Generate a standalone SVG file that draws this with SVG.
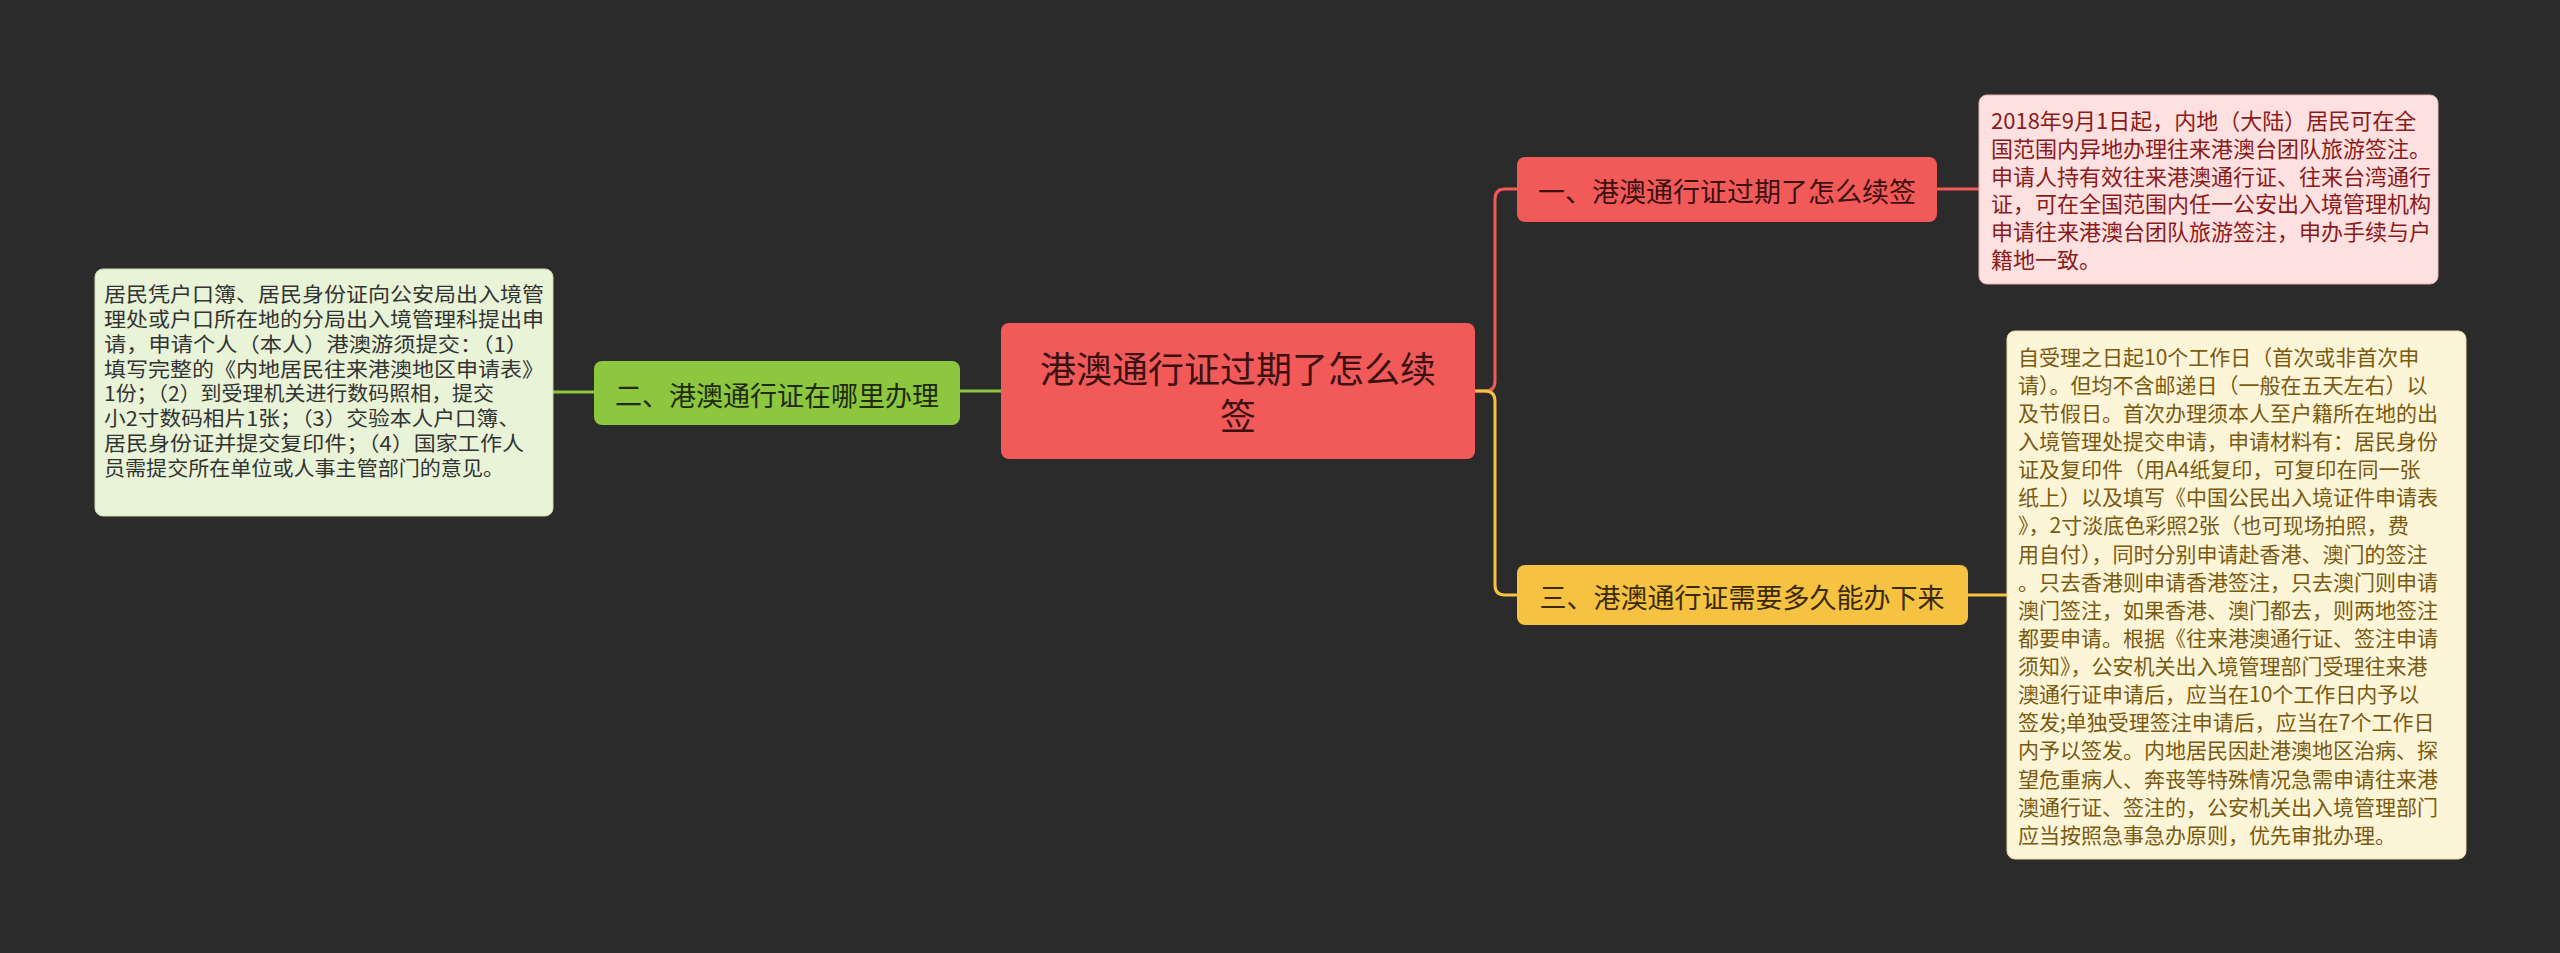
<svg xmlns="http://www.w3.org/2000/svg" width="2560" height="953" viewBox="0 0 2560 953">
<style>
text{font-family:"Noto Sans CJK SC","Noto Sans",sans-serif;dominant-baseline:central}
.l1{font-size:22px;fill:#8b1a1a}
.l3{font-size:21px;fill:#7a5a10}
.l2{font-size:20px;fill:#333333}
.c{fill:none;stroke-width:3}
</style>
<rect width="2560" height="953" fill="#2b2b2b"/>
<g id="connectors">
<path class="c" stroke="#f25a5a" d="M1475 391 H1485 Q1495 391 1495 381 V199 Q1495 189 1505 189 H1517"/>
<path class="c" stroke="#f5c242" d="M1475 391 H1485 Q1495 391 1495 401 V585 Q1495 595 1505 595 H1517"/>
<path class="c" stroke="#8dc63f" d="M1001 391 H960"/>
<path class="c" stroke="#f25a5a" d="M1937 189 H1979"/>
<path class="c" stroke="#f5c242" d="M1968 595 H2007"/>
<path class="c" stroke="#8dc63f" d="M594 392 H553"/>
</g>
<g id="center">
<rect x="1001" y="323" width="474" height="136" rx="8" fill="#f25a5a"/>
<text x="1238" y="367" font-size="36" fill="#3a1010" text-anchor="middle">港澳通行证过期了怎么续</text>
<text x="1238" y="414" font-size="36" fill="#3a1010" text-anchor="middle">签</text>
</g>
<g id="node1">
<rect x="1517" y="157" width="420" height="65" rx="8" fill="#f25a5a"/>
<text x="1727" y="190" font-size="27" fill="#3a1010" text-anchor="middle">一、港澳通行证过期了怎么续签</text>
</g>
<g id="leaf1">
<rect x="1979" y="95" width="459" height="189" rx="8" fill="#fde0e0" stroke="#e8b0b0"/>
<text class="l1" x="1991" y="119">2018年9月1日起，内地（大陆）居民可在全</text>
<text class="l1" x="1991" y="147">国范围内异地办理往来港澳台团队旅游签注。</text>
<text class="l1" x="1991" y="175">申请人持有效往来港澳通行证、往来台湾通行</text>
<text class="l1" x="1991" y="202">证，可在全国范围内任一公安出入境管理机构</text>
<text class="l1" x="1991" y="230">申请往来港澳台团队旅游签注，申办手续与户</text>
<text class="l1" x="1991" y="258">籍地一致。</text>
</g>
<g id="node3">
<rect x="1517" y="565" width="451" height="60" rx="8" fill="#f5c242"/>
<text x="1742" y="596" font-size="27" fill="#3a2a05" text-anchor="middle">三、港澳通行证需要多久能办下来</text>
</g>
<g id="leaf3">
<rect x="2007" y="331" width="459" height="528" rx="8" fill="#fdf5d8" stroke="#e8d8a0"/>
<text class="l3" x="2018" y="356">自受理之日起10个工作日（首次或非首次申</text>
<text class="l3" x="2018" y="384">请）。但均不含邮递日（一般在五天左右）以</text>
<text class="l3" x="2018" y="412">及节假日。首次办理须本人至户籍所在地的出</text>
<text class="l3" x="2018" y="440">入境管理处提交申请，申请材料有：居民身份</text>
<text class="l3" x="2018" y="468">证及复印件（用A4纸复印，可复印在同一张</text>
<text class="l3" x="2018" y="496">纸上）以及填写《中国公民出入境证件申请表</text>
<text class="l3" x="2018" y="524">》，2寸淡底色彩照2张（也可现场拍照，费</text>
<text class="l3" x="2018" y="553">用自付），同时分别申请赴香港、澳门的签注</text>
<text class="l3" x="2018" y="581">。只去香港则申请香港签注，只去澳门则申请</text>
<text class="l3" x="2018" y="609">澳门签注，如果香港、澳门都去，则两地签注</text>
<text class="l3" x="2018" y="637">都要申请。根据《往来港澳通行证、签注申请</text>
<text class="l3" x="2018" y="665">须知》，公安机关出入境管理部门受理往来港</text>
<text class="l3" x="2018" y="693">澳通行证申请后，应当在10个工作日内予以</text>
<text class="l3" x="2018" y="721">签发;单独受理签注申请后，应当在7个工作日</text>
<text class="l3" x="2018" y="749">内予以签发。内地居民因赴港澳地区治病、探</text>
<text class="l3" x="2018" y="778">望危重病人、奔丧等特殊情况急需申请往来港</text>
<text class="l3" x="2018" y="806">澳通行证、签注的，公安机关出入境管理部门</text>
<text class="l3" x="2018" y="834">应当按照急事急办原则，优先审批办理。</text>
</g>
<g id="node2">
<rect x="594" y="361" width="366" height="64" rx="8" fill="#8dc63f"/>
<text x="777" y="394" font-size="27" fill="#1e2a0a" text-anchor="middle">二、港澳通行证在哪里办理</text>
</g>
<g id="leaf2">
<rect x="95" y="269" width="458" height="247" rx="8" fill="#e8f3d8" stroke="#c8dca8"/>
<text class="l2" x="104" y="293" textLength="440" lengthAdjust="spacingAndGlyphs">居民凭户口簿、居民身份证向公安局出入境管</text>
<text class="l2" x="104" y="318" textLength="440" lengthAdjust="spacingAndGlyphs">理处或户口所在地的分局出入境管理科提出申</text>
<text class="l2" x="104" y="343" textLength="424" lengthAdjust="spacingAndGlyphs">请，申请个人（本人）港澳游须提交：（1）</text>
<text class="l2" x="104" y="368" textLength="440" lengthAdjust="spacingAndGlyphs">填写完整的《内地居民往来港澳地区申请表》</text>
<text class="l2" x="104" y="392" textLength="390" lengthAdjust="spacingAndGlyphs">1份；（2）到受理机关进行数码照相，提交</text>
<text class="l2" x="104" y="417" textLength="416" lengthAdjust="spacingAndGlyphs">小2寸数码相片1张；（3）交验本人户口簿、</text>
<text class="l2" x="104" y="442" textLength="420" lengthAdjust="spacingAndGlyphs">居民身份证并提交复印件；（4）国家工作人</text>
<text class="l2" x="104" y="467" textLength="400" lengthAdjust="spacingAndGlyphs">员需提交所在单位或人事主管部门的意见。</text>
</g>
</svg>
